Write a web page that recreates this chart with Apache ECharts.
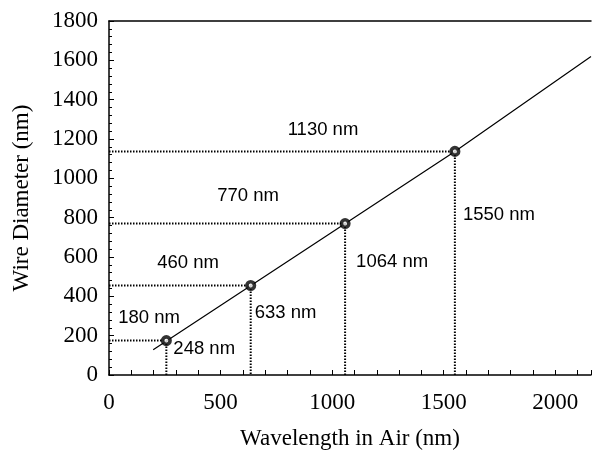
<!DOCTYPE html>
<html>
<head>
<meta charset="utf-8">
<script src="https://cdn.jsdelivr.net/npm/echarts@6/dist/echarts.min.js"></script>
<style>
html,body{margin:0;padding:0;background:#fff;}
#chart{width:594px;height:455px;}
</style>
</head>
<body>
<div id="chart"></div>
<script>
// ---- data ----
const pointWavelength = [257, 635, 1058, 1550];
const pointDiameter = [175, 455, 770, 1137];
const wavelengthLabels = ['248 nm', '633 nm', '1064 nm', '1550 nm'];
const diameterLabels = ['180 nm', '460 nm', '770 nm', '1130 nm'];
const fitLineX = [198, 1550, 2160];
const fitLineY = [129, 1137, 1620];
const xAxisRange = [0, 2160];
const yAxisRange = [0, 1800];

// ---- layout / style (pixel offsets for annotations) ----
const diamLabelOffset = [[40, -23], [79, -23], [139, -28], [214, -21]];
const waveLabelOffset = [[7, 8], [4, 27], [11, 38], [8, 64]];
const serif = '"Liberation Serif", "Times New Roman", serif';
const sans = '"Liberation Sans", Arial, sans-serif';

const chart = echarts.init(document.getElementById('chart'), null, {renderer: 'canvas'});

const dotted = {color: '#000', width: 2, type: [1.5, 1.5]};
const series = [];
series.push({
  type: 'line',
  data: fitLineX.map((x, i) => [x, fitLineY[i]]),
  symbol: 'none',
  lineStyle: {color: '#000', width: 1.2},
  clip: true,
  silent: true,
  z: 3
});
pointWavelength.forEach((x, i) => {
  const y = pointDiameter[i];
  series.push({
    type: 'line',
    data: [[xAxisRange[0], y], [x, y]],
    symbol: 'none',
    lineStyle: dotted,
    silent: true,
    z: 2
  });
  series.push({
    type: 'line',
    data: [[x, y], [x, yAxisRange[0]]],
    symbol: 'none',
    lineStyle: dotted,
    silent: true,
    z: 2
  });
});
series.push({
  type: 'scatter',
  data: pointWavelength.map((x, i) => [x, pointDiameter[i]]),
  symbol: 'circle',
  symbolSize: 7.5,
  itemStyle: {color: '#fff', borderColor: '#000', borderWidth: 3.6},
  silent: true,
  z: 5
});
const annoLabel = {show: true, position: 'right', distance: 0, verticalAlign: 'middle',
  fontFamily: sans, fontSize: 18.5, color: '#000', opacity: 1, textBorderWidth: 0};
// diameter annotations
series.push({
  type: 'scatter',
  data: pointDiameter.map((y, i) => ({
    value: [xAxisRange[0], y],
    label: {formatter: diameterLabels[i], offset: diamLabelOffset[i]}
  })),
  symbol: 'circle',
  symbolSize: 0,
  itemStyle: {color: '#000', opacity: 1},
  label: Object.assign({}, annoLabel, {align: 'center'}),
  silent: true,
  z: 6
});
// wavelength annotations
series.push({
  type: 'scatter',
  data: pointWavelength.map((x, i) => ({
    value: [x, pointDiameter[i]],
    label: {formatter: wavelengthLabels[i], offset: waveLabelOffset[i]}
  })),
  symbol: 'circle',
  symbolSize: 0,
  itemStyle: {color: '#000', opacity: 1},
  label: Object.assign({}, annoLabel, {align: 'left'}),
  silent: true,
  z: 6
});

chart.setOption({
  animation: false,
  backgroundColor: '#fff',
  grid: {left: 109, top: 21, right: 0, bottom: 80, containLabel: false},
  xAxis: [{
    type: 'value',
    min: xAxisRange[0], max: xAxisRange[1],
    interval: 100,
    name: 'Wavelength in Air (nm)',
    nameLocation: 'middle',
    nameGap: 52,
    nameTextStyle: {fontFamily: serif, fontSize: 23, color: '#000'},
    axisLine: {show: true, onZero: false, lineStyle: {color: '#000', width: 1.5}},
    axisTick: {show: true, inside: true, length: 5, lineStyle: {color: '#000', width: 1}},
    axisLabel: {
      fontFamily: serif, fontSize: 23, color: '#000', margin: 16,
      formatter: v => (v % 500 === 0 && v <= 2000) ? String(v) : ''
    },
    splitLine: {show: false}
  }, {
    type: 'value',
    position: 'top',
    min: xAxisRange[0], max: xAxisRange[1],
    axisLine: {show: true, onZero: false, lineStyle: {color: '#000', width: 1.5}},
    axisTick: {show: false},
    axisLabel: {show: false},
    splitLine: {show: false}
  }],
  yAxis: {
    type: 'value',
    min: yAxisRange[0], max: yAxisRange[1],
    interval: 200,
    name: 'Wire Diameter (nm)',
    nameLocation: 'middle',
    nameGap: 76,
    nameTextStyle: {fontFamily: serif, fontSize: 23, color: '#000'},
    axisLine: {show: true, onZero: false, lineStyle: {color: '#000', width: 1.5}},
    axisTick: {show: true, inside: true, length: 5, lineStyle: {color: '#000', width: 1}},
    minorTick: {show: true, splitNumber: 5, length: 3, lineStyle: {color: '#000', width: 1}},
    axisLabel: {fontFamily: serif, fontSize: 23, color: '#000', margin: 11,
      formatter: v => String(v)},
    splitLine: {show: false},
    minorSplitLine: {show: false}
  },
  series: series
});
</script>
</body>
</html>
